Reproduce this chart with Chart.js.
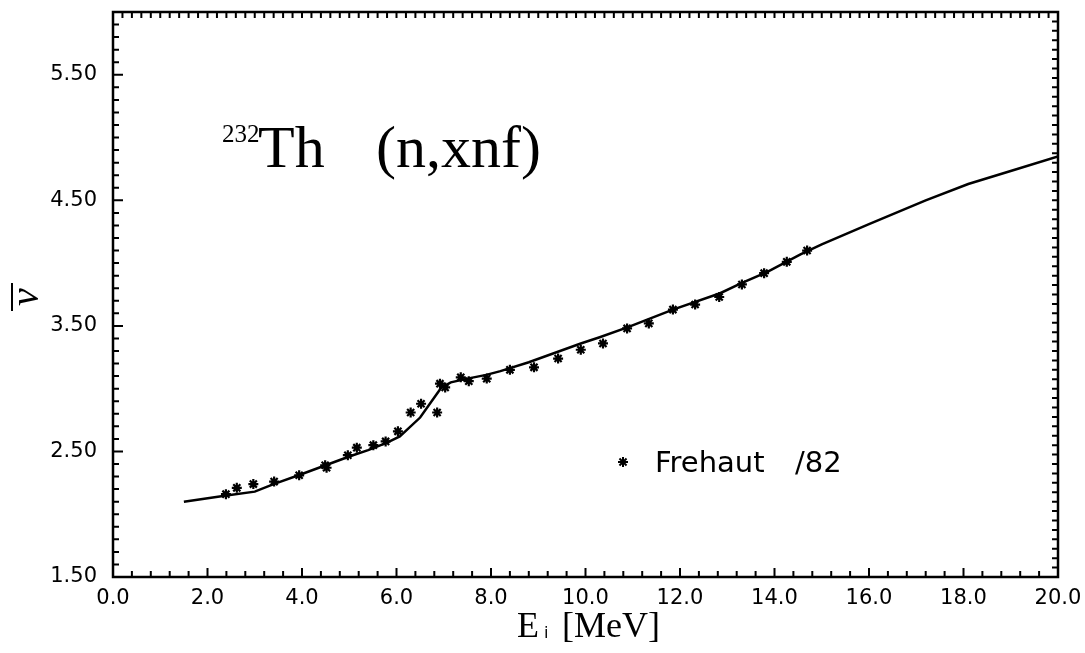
<!DOCTYPE html>
<html>
<head>
<meta charset="utf-8">
<title>232Th (n,xnf) nu-bar</title>
<script src="https://cdn.jsdelivr.net/npm/chart.js@4/dist/chart.umd.min.js"></script>
<style>
  html, body { margin: 0; padding: 0; background: #fff; }
  #wrap { width: 1085px; height: 653px; position: relative; }
</style>
</head>
<body>
<div id="wrap"><canvas id="nubar"></canvas></div>
<script>
// evaluated prompt fission neutron multiplicity (solid line)
const calcEnergy = [1.5, 2.4, 3.0, 3.4, 4.0, 4.5, 5.0, 5.4, 5.8, 6.07, 6.5, 6.95, 7.15, 7.5, 7.9, 8.2,
                    8.8, 9.9, 10.3, 10.9, 11.85, 12.85, 13.3, 13.85, 14.55, 15.0, 16.0, 17.2, 18.1, 19.05, 20.0];
const calcNu = [2.10, 2.15, 2.18, 2.24, 2.32, 2.39, 2.46, 2.51, 2.57, 2.62, 2.77, 3.01, 3.05, 3.08, 3.11, 3.14,
                3.21, 3.36, 3.41, 3.49, 3.63, 3.76, 3.84, 3.93, 4.07, 4.15, 4.31, 4.50, 4.63, 4.74, 4.85];

// Frehaut /82 measurements
const expEnergy = [2.39, 2.62, 2.97, 3.41, 3.94, 4.49, 4.52, 4.97, 5.16, 5.51, 5.77, 6.03, 6.30, 6.52, 6.86,
                   6.92, 7.03, 7.36, 7.53, 7.91, 8.40, 8.91, 9.42, 9.90, 10.37, 10.88, 11.34, 11.85, 12.32,
                   12.83, 13.31, 13.78, 14.26, 14.69];
const expNu = [2.16, 2.21, 2.24, 2.26, 2.31, 2.39, 2.37, 2.47, 2.53, 2.55, 2.58, 2.66, 2.81, 2.88, 2.81,
               3.04, 3.01, 3.09, 3.06, 3.08, 3.15, 3.17, 3.24, 3.31, 3.36, 3.48, 3.52, 3.63, 3.67,
               3.73, 3.83, 3.92, 4.01, 4.10];

const xTicks = [0, 2, 4, 6, 8, 10, 12, 14, 16, 18, 20];
const yTicks = [1.5, 2.5, 3.5, 4.5, 5.5];

const toXY = (xs, ys) => xs.map((x, i) => ({ x: x, y: ys[i] }));

// frame with inward tick marks on all four sides, plus the text annotations
const framePlugin = {
  id: 'frame',
  afterDatasetsDraw(chart) {
    const ctx = chart.ctx;
    const a = chart.chartArea;
    const xs = chart.scales.x, ys = chart.scales.y;
    ctx.save();
    ctx.strokeStyle = '#000';
    ctx.lineWidth = 2.5;
    ctx.strokeRect(a.left, a.top, a.right - a.left, a.bottom - a.top);

    ctx.lineWidth = 2;
    ctx.beginPath();
    // bottom: every 0.4, longer at each labelled tick
    for (let v = 0; v <= 20.001; v += 0.4) {
      const px = xs.getPixelForValue(v);
      const major = Math.abs(v / 2 - Math.round(v / 2)) < 1e-6;
      ctx.moveTo(px, a.bottom);
      ctx.lineTo(px, a.bottom - (major ? 9 : 6));
    }
    // top: every 0.2
    for (let v = 0; v <= 20.001; v += 0.2) {
      const px = xs.getPixelForValue(v);
      ctx.moveTo(px, a.top);
      ctx.lineTo(px, a.top + 6);
    }
    // left: every 0.1, longer at labels
    for (let v = 1.5; v <= 6.001; v += 0.1) {
      const py = ys.getPixelForValue(v);
      const major = Math.abs((v - 1.5) - Math.round(v - 1.5)) < 1e-6;
      ctx.moveTo(a.left, py);
      ctx.lineTo(a.left + (major ? 10 : 6), py);
    }
    // right: finer spacing
    for (let v = 1.5; v <= 6.001; v += 0.075) {
      const py = ys.getPixelForValue(v);
      ctx.moveTo(a.right, py);
      ctx.lineTo(a.right - 6, py);
    }
    ctx.stroke();

    ctx.fillStyle = '#000';
    ctx.textBaseline = 'alphabetic';
    ctx.textAlign = 'left';

    // reaction label
    ctx.font = '25px "Liberation Serif"';
    ctx.fillText('232', 222, 142);
    ctx.font = '60px "Liberation Serif"';
    ctx.fillText('Th', 258, 167);
    ctx.fillText('(n,xnf)', 376, 167);

    // legend entry
    ctx.lineWidth = 2;
    Chart.helpers.drawPoint(ctx, { pointStyle: 'star', radius: 5, rotation: 0, borderWidth: 2 }, 623, 462);
    ctx.font = '29px "DejaVu Sans"';
    ctx.fillText('Frehaut', 655, 472);
    ctx.fillText('/82', 795, 472);

    // x axis title: E_i [MeV]
    ctx.font = '36px "Liberation Serif"';
    ctx.fillText('E', 517, 637);
    ctx.font = '16px "DejaVu Sans"';
    ctx.fillText('i', 544, 638);
    ctx.font = '36px "Liberation Serif"';
    ctx.fillText('[MeV]', 562, 637);

    // y axis title: nu-bar, rotated
    ctx.translate(38, 297);
    ctx.rotate(-Math.PI / 2);
    ctx.font = 'italic 40px "Liberation Serif"';
    ctx.textAlign = 'center';
    ctx.fillText('\u03BD', 0, 0);
    ctx.lineWidth = 2;
    ctx.beginPath();
    ctx.moveTo(-14, -26);
    ctx.lineTo(14, -26);
    ctx.stroke();
    ctx.restore();
  }
};

new Chart(document.getElementById('nubar'), {
  type: 'scatter',
  data: {
    datasets: [
      {
        label: 'calc',
        data: toXY(calcEnergy, calcNu),
        showLine: true,
        borderColor: '#000',
        borderWidth: 2.5,
        pointRadius: 0,
        tension: 0
      },
      {
        label: 'Frehaut /82',
        data: toXY(expEnergy, expNu),
        pointStyle: 'star',
        pointRadius: 5,
        borderColor: '#000',
        backgroundColor: '#000',
        borderWidth: 2.2
      }
    ]
  },
  options: {
    responsive: true,
    maintainAspectRatio: false,
    animation: false,
    events: [],
    layout: { padding: { left: 0, top: 12, right: 27, bottom: 0 } },
    plugins: { legend: { display: false }, tooltip: { enabled: false } },
    scales: {
      x: {
        type: 'linear',
        min: 0,
        max: 20,
        afterBuildTicks: s => { s.ticks = xTicks.map(v => ({ value: v })); },
        afterFit: s => { s.height = 76; s.paddingLeft = 0; s.paddingRight = 0; },
        grid: { display: false, drawTicks: false },
        border: { display: false },
        ticks: {
          padding: 9,
          color: '#000',
          font: { family: '"DejaVu Sans"', size: 21 },
          maxRotation: 0,
          autoSkip: false,
          callback: v => Number(v).toFixed(1)
        }
      },
      y: {
        type: 'linear',
        min: 1.5,
        max: 6.0,
        afterBuildTicks: s => { s.ticks = yTicks.map(v => ({ value: v })); },
        afterFit: s => { s.width = 113; s.paddingTop = 0; s.paddingBottom = 0; },
        grid: { display: false, drawTicks: false },
        border: { display: false },
        ticks: {
          padding: 16,
          color: '#000',
          font: { family: '"DejaVu Sans"', size: 21 },
          autoSkip: false,
          callback: v => Number(v).toFixed(2)
        }
      }
    }
  },
  plugins: [framePlugin]
});
</script>
</body>
</html>
